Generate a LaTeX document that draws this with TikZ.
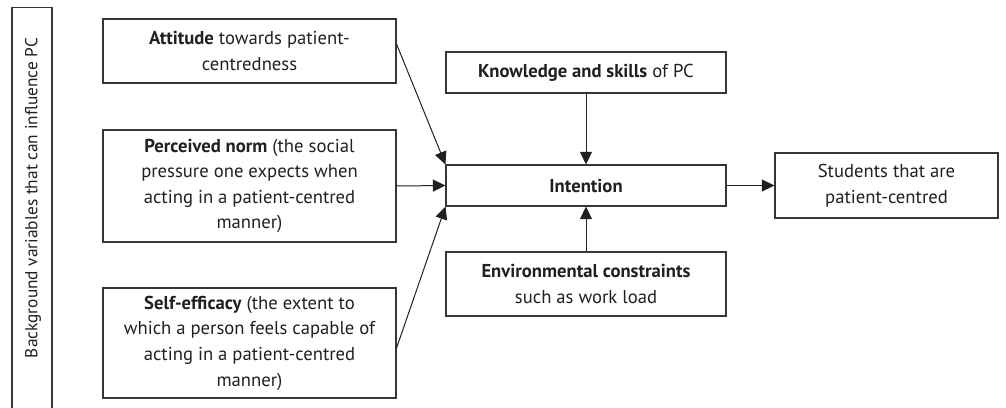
\documentclass[tikz,border=0pt]{standalone}
\usepackage{fontspec}
\setmainfont{PT Sans}
\usepackage{xcolor}
\usepackage{tikz}
\usetikzlibrary{arrows.meta,calc,positioning}

\definecolor{boxline}{RGB}{55,53,54}
\definecolor{inkline}{RGB}{35,31,32}

\begin{document}
\begin{tikzpicture}[x=0.75pt,y=0.75pt,yscale=-1,xscale=1,
  every node/.style={font=\fontsize{14}{19.2}\selectfont, text=inkline},
  pcbox/.style={draw=boxline, line width=0.8pt, align=center, inner sep=0.75pt},
  pcarrow/.style={draw=inkline, line width=0.75pt, -{Triangle[length=9.5pt,width=9pt]}}]
  %set diagram left start at 0, and has height of 407
  \useasboundingbox (0,0) rectangle (1006,407);

  %Rectangle, open at the bottom
  \node [pcbox, anchor=north, minimum width=30pt, minimum height=307.5pt] (bgvar) at (32,7) {};
  % Text Node
  \node [rotate=90, font=\fontsize{13}{16}\selectfont] (bgvartext) at (33,198) {Background variables that can influence PC};

  %Rectangles on the left
  \node [pcbox, minimum width=219.75pt, minimum height=48pt] (attitude) at (249.5,51) {\textbf{Attitude} towards patient-\\centredness};
  \node [pcbox, minimum width=219.75pt, minimum height=84pt] (norm) at (249.5,186) {\textbf{Perceived norm} (the social\\pressure one expects when\\acting in a patient-centred\\manner)};
  \node [pcbox, minimum width=219.75pt, minimum height=82.5pt] (efficacy) at (249.5,343) {\textbf{Self-efficacy} (the extent to\\which a person feels capable of\\acting in a patient-centred\\manner)};

  %Rectangles in the middle
  \node [pcbox, minimum width=210pt, minimum height=30.75pt] (knowledge) at (586,72.5) {\textbf{Knowledge and skills} of PC};
  \node [pcbox, minimum width=210pt, minimum height=30.75pt] (intention) at (586,185.5) {\textbf{Intention}};
  \node [pcbox, minimum width=210pt, minimum height=48pt] (environment) at (586,284) {\textbf{Environmental constraints}\\such as work load};

  %Rectangle on the right
  \node [pcbox, minimum width=167.25pt, minimum height=48.75pt] (students) at (886.5,185.5) {Students that are\\patient-centred};

  %Arrows
  \draw [pcarrow] ([yshift=-5.25pt]attitude.east) -- (intention.north west);
  \draw [pcarrow] (norm.east) -- (intention.west);
  \draw [pcarrow] ([yshift=3.75pt]efficacy.east) -- (intention.south west);
  \draw [pcarrow] (knowledge) -- (intention);
  \draw [pcarrow] (environment) -- (intention);
  \draw [pcarrow] (intention) -- (students);

\end{tikzpicture}
\end{document}
